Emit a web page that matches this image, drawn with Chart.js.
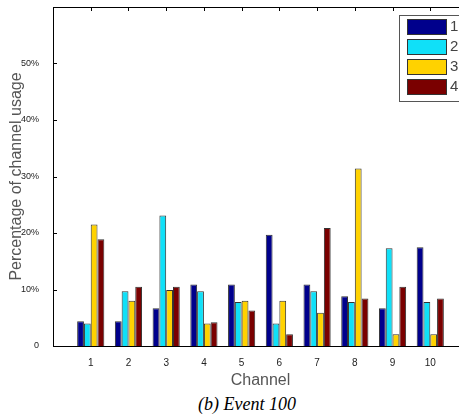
<!DOCTYPE html>
<html>
<head>
<meta charset="utf-8">
<script src="https://cdn.jsdelivr.net/npm/chart.js@4"></script>
<style>
  html, body { margin: 0; padding: 0; background: #fff; overflow: hidden; }
  #wrap { position: relative; width: 459px; height: 417px; overflow: hidden; }
  #box { position: absolute; left: 0; top: 0; width: 476px; height: 390px; }
  #caption { position: absolute; left: 0; width: 494px; top: 394px; text-align: center;
    font: italic 18px "Liberation Serif", "DejaVu Serif", serif; color: #000; }
</style>
</head>
<body>
<div id="wrap">
  <div id="box"><canvas id="chart"></canvas></div>
  <div id="caption">(b) Event 100</div>
</div>
<script>
const channels = [1, 2, 3, 4, 5, 6, 7, 8, 9, 10];
const seriesNames = ['1', '2', '3', '4'];
const usage1 = [4.4, 4.4, 6.7, 10.9, 10.9, 19.7, 10.9, 8.8, 6.7, 17.5];
const usage2 = [4.0, 9.7, 23.1, 9.7, 7.8, 4.0, 9.7, 7.8, 17.3, 7.8];
const usage3 = [21.5, 8.0, 9.9, 4.0, 8.0, 8.0, 5.9, 31.4, 2.1, 2.1];
const usage4 = [18.9, 10.5, 10.5, 4.2, 6.3, 2.1, 20.9, 8.4, 10.5, 8.4];
const yTicks = [0, 10, 20, 30, 40, 50];
const colors = ['#00008c', '#10e0f8', '#ffd200', '#7a0000'];

const allSeries = [usage1, usage2, usage3, usage4];

// box, inner ticks and legend like a MATLAB figure
const frame = {
  id: 'frame',
  afterDatasetsDraw(chart) {
    const { ctx, chartArea: a, scales } = chart;
    ctx.save();
    ctx.strokeStyle = '#000';
    ctx.lineWidth = 1;
    ctx.strokeRect(a.left + 0.5, a.top + 0.5, a.right - a.left, a.bottom - a.top);
    ctx.beginPath();
    channels.forEach(c => {
      const x = Math.round(scales.x.getPixelForValue(c)) + 0.5;
      ctx.moveTo(x, a.top); ctx.lineTo(x, a.top + 4);
    });
    yTicks.forEach(v => {
      const y = Math.round(scales.y.getPixelForValue(v)) + 0.5;
      ctx.moveTo(a.left, y); ctx.lineTo(a.left + 4, y);
    });
    ctx.stroke();

    // legend
    const lx = a.right - 69, ly = 15;
    ctx.fillStyle = '#fff';
    ctx.fillRect(lx, ly, 80, 86);
    ctx.strokeStyle = '#555';
    ctx.strokeRect(lx + 0.5, ly + 0.5, 80, 86);
    ctx.font = '15px "Liberation Sans", Arial, sans-serif';
    ctx.textBaseline = 'middle';
    chart.data.datasets.forEach((ds, i) => {
      const sy = ly + 4 + i * 20;
      ctx.fillStyle = ds.backgroundColor;
      ctx.fillRect(lx + 8, sy, 39, 15);
      ctx.strokeStyle = '#333';
      ctx.strokeRect(lx + 8.5, sy + 0.5, 39, 15);
      ctx.fillStyle = '#444';
      ctx.fillText(ds.label, lx + 51, sy + 8);
    });
    ctx.restore();
  }
};

const chart = new Chart(document.getElementById('chart'), {
  type: 'bar',
  data: {
    datasets: allSeries.map((vals, i) => ({
      label: seriesNames[i],
      data: channels.map((c, j) => ({ x: c, y: vals[j] })),
      backgroundColor: colors[i],
      borderColor: '#333',
      borderWidth: 1,
      categoryPercentage: 0.72,
      barPercentage: 1
    }))
  },
  options: {
    responsive: true,
    maintainAspectRatio: false,
    animation: false,
    layout: { padding: { top: 7, right: 8, left: 0, bottom: 0 } },
    plugins: { legend: { display: false }, tooltip: { enabled: false } },
    scales: {
      x: {
        type: 'linear',
        offset: false,
        min: 0,
        max: 11,
        afterFit: s => { s.height = 44; s.paddingLeft = 0; s.paddingRight = 0; },
        grid: { display: false },
        border: { display: false },
        ticks: {
          stepSize: 1,
          autoSkip: false,
          maxRotation: 0,
          color: '#222',
          font: { size: 10, family: 'Arial, "Liberation Sans", sans-serif' },
          callback: v => (v >= 1 && v <= 10 ? String(v) : '')
        },
        title: {
          display: true,
          text: 'Channel',
          color: '#555',
          padding: { top: 4, bottom: 0 },
          font: { size: 16, family: 'Arial, "Liberation Sans", sans-serif' }
        }
      },
      y: {
        min: 0,
        max: 60,
        afterFit: s => { s.width = 53; s.paddingTop = 0; s.paddingBottom = 0; },
        afterBuildTicks: s => { s.ticks = yTicks.map(v => ({ value: v })); },
        grid: { display: false },
        border: { display: false },
        ticks: {
          color: '#222',
          padding: 6,
          font: { size: 9, family: 'Arial, "Liberation Sans", sans-serif' },
          callback: v => (v === 0 ? '0' : v + '%')
        },
        title: {
          display: true,
          text: 'Percentage of channel usage',
          color: '#555',
          padding: { top: 7, bottom: 2 },
          font: { size: 16, family: 'Arial, "Liberation Sans", sans-serif' }
        }
      }
    }
  },
  plugins: [frame]
});
console.log(JSON.stringify(chart.chartArea));
</script>
</body>
</html>
